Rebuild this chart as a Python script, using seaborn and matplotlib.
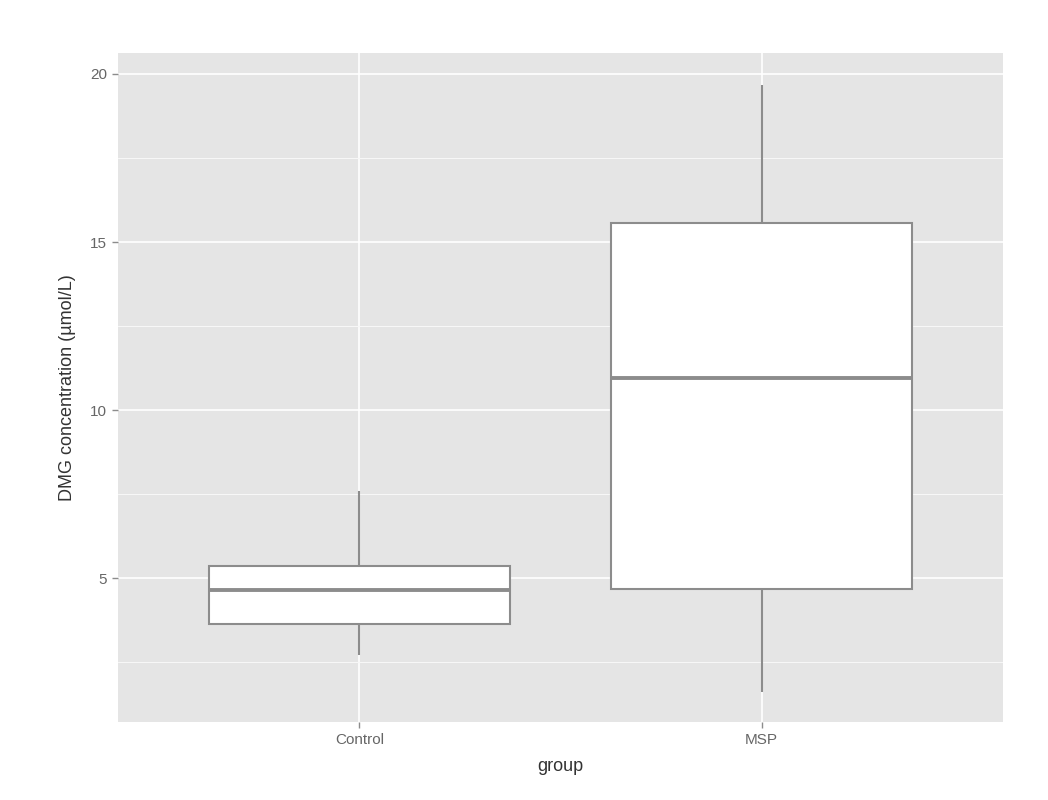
import matplotlib
matplotlib.use("Agg")
import matplotlib.pyplot as plt
import seaborn as sns
import pandas as pd
from matplotlib.ticker import MultipleLocator

# five-number summaries (min, q1, median, q3, max)
groups = ["Control", "MSP"]
control_vals = [2.72, 3.63, 4.64, 5.36, 7.61]
msp_vals = [1.62, 4.67, 10.96, 15.56, 19.67]

df = pd.DataFrame({
    "group": ["Control"] * len(control_vals) + ["MSP"] * len(msp_vals),
    "dmg": control_vals + msp_vals,
})

sns.set_theme(style="darkgrid")
plt.rcParams["font.family"] = ["Liberation Sans", "DejaVu Sans"]

fig = plt.figure(figsize=(10.48, 8), dpi=100)
ax = fig.add_axes([118 / 1048, 1 - 722 / 800, (1003 - 118) / 1048, (722 - 53) / 800])
ax.set_facecolor("#e5e5e5")

sns.boxplot(data=df, x="group", y="dmg", order=groups, width=0.75, whis=1.5,
            color="white", linecolor="#8c8c8c", linewidth=1.5,
            medianprops=dict(color="#8c8c8c", linewidth=2.8),
            showcaps=False, fliersize=0, ax=ax)
for patch in ax.patches:
    patch.set_facecolor("white")
    patch.set_zorder(3)
for ln in ax.lines:
    ln.set_zorder(4)

ax.set_xlim(-0.6, 1.6)
ax.set_ylim(0.73, 20.62)
ax.yaxis.set_major_locator(MultipleLocator(5))
ax.yaxis.set_minor_locator(MultipleLocator(2.5))
ax.grid(which="major", color="white", linewidth=1.2)
ax.grid(which="minor", axis="y", color="#f7f7f7", linewidth=0.8)
ax.set_axisbelow(True)
for s in ax.spines.values():
    s.set_visible(False)

ax.tick_params(axis="both", which="major", length=4, width=1, color="#8c8c8c",
               labelsize=11, labelcolor="#666666", pad=4, direction="out",
               bottom=True, left=True)
ax.tick_params(axis="y", which="minor", length=0)

ax.set_xlabel("group", fontsize=13, color="#333333", labelpad=8)
ax.set_ylabel("DMG concentration (µmol/L)", fontsize=13, color="#333333", labelpad=10)

fig.savefig("out.png", dpi=100)
